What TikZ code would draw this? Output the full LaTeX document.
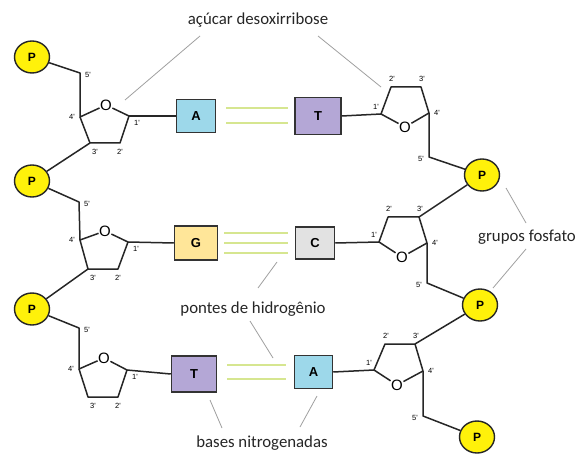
\documentclass[tikz,border=0pt]{standalone}
\usepackage{fontspec}
\setmainfont{Carlito}
\newfontfamily\arialf{Liberation Sans}
\usetikzlibrary{shapes.geometric,calc}
\definecolor{bblue}{HTML}{9DD8EA}
\definecolor{bpurple}{HTML}{B4A7D6}
\definecolor{byellow}{HTML}{FFE699}
\definecolor{bgray}{HTML}{E2E2E2}
\definecolor{pyellow}{HTML}{FFF10A}
\definecolor{hbond}{HTML}{D6E690}
\definecolor{leadc}{HTML}{A0A0A0}
\tikzset{
  bb/.style={line width=1.5pt, draw=black!85, line join=round},
  basebox/.style={draw=black!80, line width=1.5pt, inner sep=0pt, font=\arialf\bfseries\fontsize{13}{13}\selectfont},
  phos/.style={ellipse, draw=black!85, line width=1.4pt, fill=pyellow, minimum width=35pt, minimum height=32pt, inner sep=0pt, font=\arialf\bfseries\fontsize{12}{12}\selectfont},
  ox/.style={font=\arialf\fontsize{15}{15}\selectfont, inner sep=0.4pt},
  num/.style={font=\arialf\fontsize{7.5}{7.5}\selectfont, inner sep=0pt},
  lbl/.style={font=\fontsize{16.8}{18}\selectfont, inner sep=0pt, text=black!85},
  hb/.style={draw=hbond, line width=1.8pt},
  ld/.style={draw=leadc, line width=0.8pt}
}
\begin{document}
\begin{tikzpicture}[x=1pt,y=-1pt]
\useasboundingbox (0,0) rectangle (580,454);
\fill[white] (0,0) rectangle (580,454);

% ---------- phosphates ----------
\node[phos] (PL1) at (32,57) {P};
\node[phos] (PL2) at (32,181) {P};
\node[phos] (PL3) at (32,309) {P};
\node[phos] (PR1) at (482,175) {P};
\node[phos] (PR2) at (480,305) {P};
\node[phos] (PR3) at (477,437) {P};

% ---------- left sugars ----------
\coordinate (l1v5) at (80,73); \coordinate (l1v4) at (80,117);
\coordinate (l1v1) at (129,116); \coordinate (l1v2) at (120,143); \coordinate (l1v3) at (90,143);
\node[ox] (l1o) at (106,105) {O};
\coordinate (l2v5) at (79,202); \coordinate (l2v4) at (80,240);
\coordinate (l2v1) at (128,242); \coordinate (l2v2) at (118,269); \coordinate (l2v3) at (88,269);
\node[ox] (l2o) at (105,231) {O};
\coordinate (l3v5) at (79,328); \coordinate (l3v4) at (79,369);
\coordinate (l3v1) at (127,370); \coordinate (l3v2) at (118,397); \coordinate (l3v3) at (88,397);
\node[ox] (l3o) at (104,358) {O};

% ---------- right sugars ----------
\coordinate (r1v1) at (381,114); \coordinate (r1v2) at (391,87); \coordinate (r1v3) at (421,87);
\coordinate (r1v4) at (429,113); \coordinate (r1v5) at (429,157);
\node[ox] (r1o) at (405,127) {O};
\coordinate (r2v1) at (379,242); \coordinate (r2v2) at (388,217); \coordinate (r2v3) at (419,217);
\coordinate (r2v4) at (427,243); \coordinate (r2v5) at (427,283);
\node[ox] (r2o) at (402,257) {O};
\coordinate (r3v1) at (374,370); \coordinate (r3v2) at (385,344); \coordinate (r3v3) at (415,344);
\coordinate (r3v4) at (423,371); \coordinate (r3v5) at (423,416);
\node[ox] (r3o) at (397,385) {O};

% ---------- bases ----------
\node[basebox, fill=bblue, minimum width=39pt, minimum height=33pt] (A1) at (196,116) {A};
\node[basebox, fill=bpurple, minimum width=46pt, minimum height=37pt] (T1) at (318,116) {T};
\node[basebox, fill=byellow, minimum width=43pt, minimum height=34pt] (G2) at (196,243) {G};
\node[basebox, fill=bgray, minimum width=39pt, minimum height=32pt] (C2) at (315,243) {C};
\node[basebox, fill=bpurple, minimum width=45pt, minimum height=36pt] (T3) at (194,374) {T};
\node[basebox, fill=bblue, minimum width=38pt, minimum height=33pt] (A3) at (313.5,372) {A};

% ---------- backbone & rings (left) ----------
\foreach \r/\pa/\pb in {1/PL1/PL2, 2/PL2/PL3} {
  \draw[bb] (\pa) -- (l\r v5) -- (l\r v4) -- (l\r o);
  \draw[bb] (l\r o) -- (l\r v1) -- (l\r v2) -- (l\r v3) -- (l\r v4);
  \draw[bb] (l\r v3) -- (\pb);
}
\draw[bb] (PL3) -- (l3v5) -- (l3v4) -- (l3o);
\draw[bb] (l3o) -- (l3v1) -- (l3v2) -- (l3v3) -- (l3v4);

% ---------- backbone & rings (right) ----------
\foreach \r/\pa in {1/PR1, 2/PR2, 3/PR3} {
  \draw[bb] (r\r o) -- (r\r v1) -- (r\r v2) -- (r\r v3) -- (r\r v4) -- (r\r o);
  \draw[bb] (r\r v4) -- (r\r v5) -- (\pa);
}
\draw[bb] (r2v3) -- (PR1);
\draw[bb] (r3v3) -- (PR2);

% ---------- glycosidic bonds ----------
\draw[bb] (l1v1) -- (A1.west);
\draw[bb] (T1.east) -- (r1v1);
\draw[bb] (l2v1) -- (G2.west);
\draw[bb] (C2.east) -- (r2v1);
\draw[bb] (l3v1) -- (T3.west);
\draw[bb] (A3.east) -- (r3v1);

% ---------- hydrogen bonds ----------
\coordinate (h1a) at (226,108); \coordinate (h1b) at (288,108);
\coordinate (h1c) at (226,123); \coordinate (h1d) at (288,123);
\draw[hb] (h1a) -- (h1b); \draw[hb] (h1c) -- (h1d);
\coordinate (h2a) at (224,233); \coordinate (h2b) at (288,233);
\coordinate (h2c) at (224,243); \coordinate (h2d) at (288,243);
\coordinate (h2e) at (224,253); \coordinate (h2f) at (288,253);
\draw[hb] (h2a) -- (h2b); \draw[hb] (h2c) -- (h2d); \draw[hb] (h2e) -- (h2f);
\coordinate (h3a) at (227,365); \coordinate (h3b) at (286,365);
\coordinate (h3c) at (227,379); \coordinate (h3d) at (286,379);
\draw[hb] (h3a) -- (h3b); \draw[hb] (h3c) -- (h3d);

% ---------- carbon numbers ----------
\foreach \r in {1,2,3} {
  \node[num] (l\r n5) at ($(l\r v5)+(8,2)$) {5'};
  \node[num] (l\r n4) at ($(l\r v4)+(-8,0)$) {4'};
  \node[num] (l\r n3) at ($(l\r v3)+(5,9)$) {3'};
  \node[num] (l\r n2) at ($(l\r v2)+(0,9)$) {2'};
  \node[num] (l\r n1) at ($(l\r v1)+(8,7)$) {1'};
  \node[num] (r\r n1) at ($(r\r v1)+(-5,-7)$) {1'};
  \node[num] (r\r n2) at ($(r\r v2)+(1,-8)$) {2'};
  \node[num] (r\r n3) at ($(r\r v3)+(1,-8)$) {3'};
  \node[num] (r\r n4) at ($(r\r v4)+(8,0)$) {4'};
  \node[num] (r\r n5) at ($(r\r v5)+(-8,2)$) {5'};
}

% ---------- labels ----------
\node[lbl] (acucar) at (258,20) {açúcar desoxirribose};
\node[lbl] (pontes) at (253,309) {pontes de hidrogênio};
\node[lbl] (bases) at (262,443) {bases nitrogenadas};
\node[lbl] (grupos) at (527,237) {grupos fosfato};

% ---------- leader lines ----------
\coordinate (ac1) at (200,36); \coordinate (ac1e) at (125,100);
\coordinate (ac2) at (318,36); \coordinate (ac2e) at (381,87);
\draw[ld] (ac1) -- (ac1e); \draw[ld] (ac2) -- (ac2e);
\coordinate (gf1) at (526,223); \coordinate (gf1e) at (506,188);
\coordinate (gf2) at (526,249); \coordinate (gf2e) at (493,288);
\draw[ld] (gf1) -- (gf1e); \draw[ld] (gf2) -- (gf2e);
\coordinate (ph1) at (258,288); \coordinate (ph1e) at (277,262);
\coordinate (ph2) at (250,321); \coordinate (ph2e) at (273,358);
\draw[ld] (ph1) -- (ph1e); \draw[ld] (ph2) -- (ph2e);
\coordinate (bn1) at (222,428); \coordinate (bn1e) at (210,400);
\coordinate (bn2) at (300,427); \coordinate (bn2e) at (317,396);
\draw[ld] (bn1) -- (bn1e); \draw[ld] (bn2) -- (bn2e);
\end{tikzpicture}
\end{document}
